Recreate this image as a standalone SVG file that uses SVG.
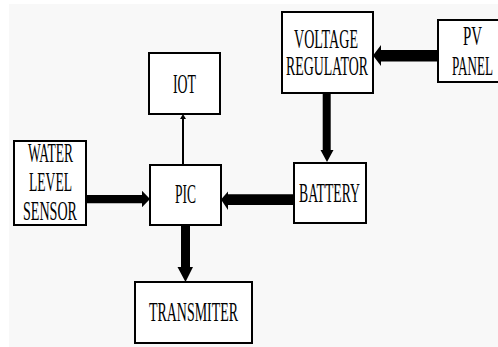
<svg xmlns="http://www.w3.org/2000/svg" width="498" height="347" viewBox="0 0 498 347">
<style>
.box{fill:#fff;stroke:#000;stroke-width:2}
.lbl{font-family:"Liberation Serif","Times New Roman",serif;font-size:27px;fill:#000;text-anchor:start}
.arr{fill:#000;stroke:none}
</style>
<rect x="0" y="0" width="498" height="347" fill="#fff"/>
<rect x="9" y="4" width="489" height="343" fill="#f8f8f8"/>
<g id="connectors">
<polygon class="arr" points="86,195 142,195 142,190.7 150,199 142,207.3 142,203.3 86,203.3"/>
<polygon class="arr" points="294,194.3 228,194.3 228,191.5 221,199.5 228,210 228,205 294,205"/>
<polygon class="arr" points="438,50 381,50 381,45 373,55.5 381,66 381,61.5 438,61.5"/>
<polygon class="arr" points="322.7,93 330.7,93 330.7,150 333.5,150 327,162 320.5,150 322.7,150"/>
<polygon class="arr" points="181,225 190,225 190,267 193,267 185.5,282 177.5,267 181,267"/>
<line x1="183" y1="165" x2="183" y2="118" stroke="#000" stroke-width="2"/>
<polygon class="arr" points="183,114 186,119 180,119"/>
</g>
<g id="iot"><rect class="box" x="149" y="53" width="71" height="61"/><text class="lbl" x="173" y="93" textLength="23" lengthAdjust="spacingAndGlyphs">IOT</text></g>
<g id="water-level-sensor"><rect class="box" x="14" y="141" width="72" height="84"/>
<text class="lbl" x="28" y="162" textLength="45" lengthAdjust="spacingAndGlyphs">WATER</text>
<text class="lbl" x="29" y="191" textLength="43" lengthAdjust="spacingAndGlyphs">LEVEL</text>
<text class="lbl" x="23" y="220" textLength="54" lengthAdjust="spacingAndGlyphs">SENSOR</text></g>
<g id="pic"><rect class="box" x="150" y="165" width="71" height="60"/><text class="lbl" x="175" y="203" textLength="21" lengthAdjust="spacingAndGlyphs">PIC</text></g>
<g id="transmiter"><rect class="box" x="135" y="282" width="117" height="61"/><text class="lbl" x="149" y="321" textLength="89" lengthAdjust="spacingAndGlyphs">TRANSMITER</text></g>
<g id="voltage-regulator"><rect class="box" x="282" y="12" width="91" height="81"/>
<text class="lbl" x="294" y="48" textLength="64" lengthAdjust="spacingAndGlyphs">VOLTAGE</text>
<text class="lbl" x="286" y="75" textLength="82" lengthAdjust="spacingAndGlyphs">REGULATOR</text></g>
<g id="pv-panel"><rect class="box" x="438" y="20" width="64" height="62"/>
<text class="lbl" x="463" y="45" textLength="19" lengthAdjust="spacingAndGlyphs">PV</text>
<text class="lbl" x="452" y="75" textLength="41" lengthAdjust="spacingAndGlyphs">PANEL</text></g>
<g id="battery"><rect class="box" x="294" y="163" width="72" height="60"/><text class="lbl" x="299" y="202" textLength="61" lengthAdjust="spacingAndGlyphs">BATTERY</text></g>
</svg>
